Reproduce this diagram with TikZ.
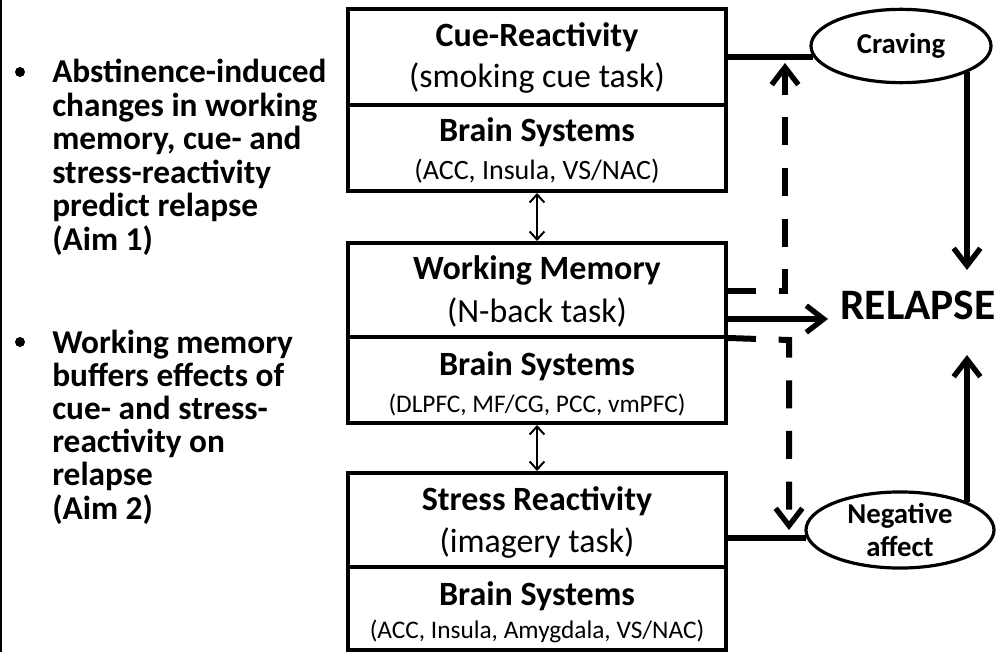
\documentclass[tikz,border=0pt]{standalone}
\usepackage{fontspec}
\setmainfont{Carlito}
\usetikzlibrary{arrows.meta,shapes.geometric,calc}
\begin{document}
\begin{tikzpicture}[x=0.75pt,y=-0.75pt,
  half/.style={draw,line width=3pt,minimum width=283.5pt,inner sep=0pt},
  ttl/.style={anchor=base,font=\bfseries\fontsize{25.5}{30}\selectfont,inner sep=0pt},
  task/.style={anchor=base,font=\fontsize{25.4}{30}\selectfont,inner sep=0pt},
  sub/.style={anchor=base,font=\fontsize{19}{23}\selectfont,inner sep=0pt},
  oval/.style={draw,ellipse,line width=2.4pt,inner sep=0pt,font=\bfseries\fontsize{21.6}{25}\selectfont,align=center},
  aim/.style={anchor=base west,font=\bfseries\fontsize{25}{29}\selectfont,inner sep=0pt},
  bul/.style={circle,fill,inner sep=0pt,minimum size=7.5pt},
  conn/.style={line width=4.5pt},
  head/.style={-{Straight Barb[length=13pt,width=20pt,line width=4pt]}},
  dashline/.style={line width=4.5pt,dash pattern=on 21pt off 17pt},
  dbl/.style={line width=1.5pt,{Straight Barb[length=6pt,width=11pt]}-{Straight Barb[length=6pt,width=11pt]}}
]
\useasboundingbox (0,0) rectangle (999,652);
\fill[white] (0,0) rectangle (999,652);
\draw[line width=1.5pt] (1,0) -- (1,652);

% boxes
\node[half,minimum height=72pt] (cue) at (537,57) {};
\node[half,minimum height=64.5pt] (cueb) at (537,148) {};
\node[half,minimum height=70.5pt] (wm) at (537,290) {};
\node[half,minimum height=64.5pt] (wmb) at (537,380) {};
\node[half,minimum height=70.5pt] (sr) at (537,520) {};
\node[half,minimum height=62pt] (srb) at (537,608.5) {};

\node[ttl] (cuet) at (537,47) {Cue-Reactivity};
\node[task] (cuek) at (537,88) {(smoking cue task)};
\node[ttl] (cuebt) at (537,142) {Brain Systems};
\node[sub,font=\fontsize{21}{25}\selectfont] (cuebs) at (537,180) {(ACC, Insula, VS/NAC)};

\node[ttl] (wmt) at (537,280) {Working Memory};
\node[task] (wmk) at (537,322) {(N-back task)};
\node[ttl] (wmbt) at (537,375) {Brain Systems};
\node[sub] (wmbs) at (537,412) {(DLPFC, MF/CG, PCC, vmPFC)};

\node[ttl] (srt) at (537,510) {Stress Reactivity};
\node[task] (srk) at (537,552) {(imagery task)};
\node[ttl] (srbt) at (537,605) {Brain Systems};
\node[sub] (srbs) at (537,638) {(ACC, Insula, Amygdala, VS/NAC)};

% ellipses and relapse
\node[oval,minimum width=135pt,minimum height=55pt] (crav) at (901,46) {Craving};
\node[oval,minimum width=141pt,minimum height=57pt] (na) at (900,530) {Negative\\affect};
\node[anchor=base,font=\bfseries\fontsize{32.6}{36}\selectfont,inner sep=0pt] (rel) at (918,320) {RELAPSE};

\coordinate (rtop) at (967,270);
\coordinate (rbot) at (967,355);
\coordinate (rleft) at (828,319);
\coordinate (up1) at (785,291);
\coordinate (up2) at (785,63);
\coordinate (dn1) at (789,340);
\coordinate (dn2) at (789,530);

% connectors
\draw[conn] (cue.east) -- (cue.east -| crav.187);
\draw[conn] ($(sr.east)+(0,18)$) -- ($(sr.east -| na.west)+(2,18)$);
\draw[conn,head] (rtop |- crav.-21) -- (rtop);
\draw[conn,head] (rbot |- na.22) -- (rbot);
\draw[conn,head] (rleft -| wm.east) -- (rleft);
\draw[dashline,head] ($(wm.east)+(0,1)$) -- (up1) -- (up2);
\draw[dashline,head] ($(wmb.north east)+(0,3)$) -- (dn1) -- (dn2);
\draw[dbl] (cueb.south) -- (wm.north);
\draw[dbl] (wmb.south) -- (sr.north);

% left text
\foreach \t [count=\i] in {Abstinence-induced,changes in working,{memory, cue- and},stress-reactivity,predict relapse,(Aim 1)}
  \node[aim] (a\i) at (52,{83+33.5*(\i-1)}) {\t};
\foreach \t [count=\i] in {Working memory,buffers effects of,cue- and stress-,reactivity on,relapse,(Aim 2)}
  \node[aim] (b\i) at (52,{353+33.2*(\i-1)}) {\t};
\node[bul] (bu1) at (20,72) {};
\node[bul] (bu2) at (20,342) {};
\end{tikzpicture}
\end{document}
